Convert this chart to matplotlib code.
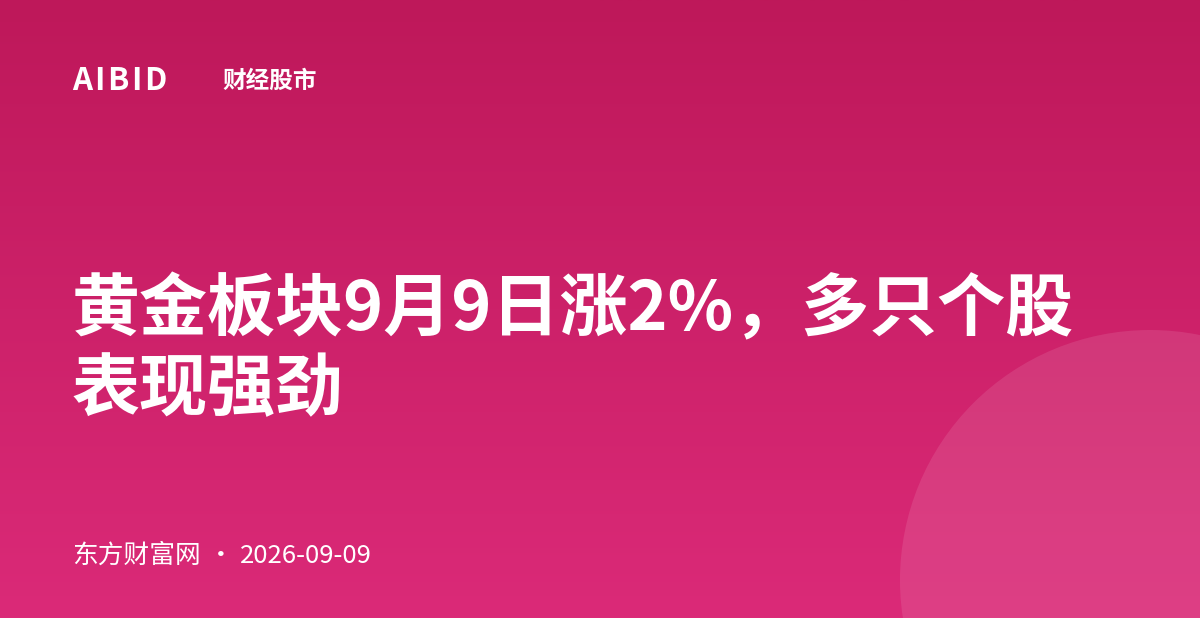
'''
Banner card: gold sector headline
'''
import numpy as np
import matplotlib.pyplot as plt
from matplotlib.colors import LinearSegmentedColormap
from matplotlib.patches import Circle

plt.rcParams['font.family'] = ['Noto Sans CJK SC', 'DejaVu Sans']

# text content
brand = 'AIBID'
section = '财经股市'
title_lines = ['黄金板块9月9日涨2%，多只个股', '表现强劲']
source = '东方财富网'
date = '2026-09-09'

# colours
top_color = '#BE185A'
bottom_color = '#DB2A78'

W, H = 1200, 630
card_h = 618

fig = plt.figure(figsize=(12, 6.3), dpi=100)
ax = fig.add_axes([0, 0, 1, 1])
ax.set_xlim(0, W)
ax.set_ylim(H, 0)
ax.axis('off')
fig.patch.set_facecolor('white')

# vertical gradient background
cmap = LinearSegmentedColormap.from_list('bg', [top_color, bottom_color])
grad = np.linspace(0, 1, 256).reshape(-1, 1)
ax.imshow(grad, cmap=cmap, aspect='auto', extent=(0, W, card_h, 0), zorder=0)

# soft circle bottom right
circ = Circle((1150, 580), 250, facecolor='white', alpha=0.10, edgecolor='none', zorder=1)
ax.add_patch(circ)
circ.set_clip_path(plt.Rectangle((0, 0), W, card_h, transform=ax.transData))

# header - brand with slight letter spacing
renderer = fig.canvas.get_renderer()
x = 72
for ch in brand:
    t = ax.text(x, 81, ch, color='white', fontsize=22.5, fontweight='bold',
                va='center', ha='left', zorder=3)
    bb = t.get_window_extent(renderer)
    x += bb.width + 2.5
ax.text(222, 81, section, color='white', fontsize=17, fontweight='bold',
        va='center', ha='left', zorder=3)

# title
for i, line in enumerate(title_lines):
    ax.text(72, 311 + i * 80, line, color='white', fontsize=49, fontweight='bold',
            va='center', ha='left', zorder=3)

# footer
ax.text(72, 556, source, color='white', fontsize=18.5, va='center', ha='left', zorder=3)
ax.text(221, 556, '·', color='white', fontsize=18.5, va='center', ha='center', zorder=3)
ax.text(240, 556, date, color='white', fontsize=18.5, va='center', ha='left', zorder=3)

fig.savefig('out.png', dpi=100, facecolor='white')
